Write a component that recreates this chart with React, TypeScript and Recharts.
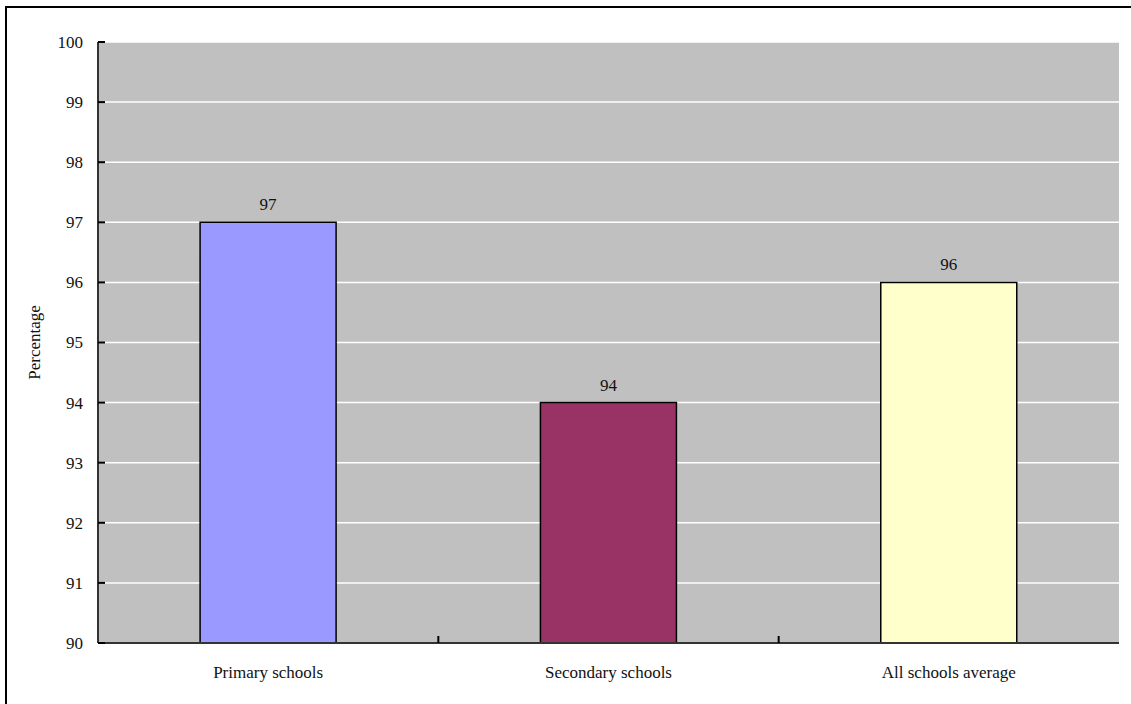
import { Bar, BarChart, CartesianGrid, Cell, LabelList, XAxis, YAxis } from 'recharts';

const schools = ['Primary schools', 'Secondary schools', 'All schools average'];
const percentages = [97, 94, 96];
const barColors = ['#9999FF', '#993366', '#FFFFCC'];
const yTicks = [90, 91, 92, 93, 94, 95, 96, 97, 98, 99, 100];

const data = schools.map((school, i) => ({ school, value: percentages[i] }));

const FONT = 'Liberation Serif';
const TICK_GAP = 23;

// y tick: label to the left of the axis, short tick mark pointing into the plot
function renderYTick(props: any) {
  const { x, y, payload } = props;
  const axisX = x + 15;
  return (
    <g key={`y-${payload.value}`}>
      <line x1={axisX} x2={axisX + 7} y1={y} y2={y} stroke="#000" strokeWidth={2} />
      <text x={x} y={y} dy="0.35em" textAnchor="end" fontFamily={FONT} fontSize={17} fill="#111">
        {payload.value}
      </text>
    </g>
  );
}

// category label, plus a tick on the right edge of each band (except the last)
function renderXTick(props: any) {
  const { x, y, payload, index, width, visibleTicksCount } = props;
  const count = visibleTicksCount || schools.length;
  const band = width / count;
  const axisY = y - TICK_GAP;
  const edgeX = x + band / 2;
  return (
    <g key={`x-${payload.value}`}>
      {index < count - 1 && (
        <line x1={edgeX} x2={edgeX} y1={axisY} y2={axisY - 7} stroke="#000" strokeWidth={2} />
      )}
      <text x={x} y={y} dy="0.71em" textAnchor="middle" fontFamily={FONT} fontSize={17} fill="#111">
        {payload.value}
      </text>
    </g>
  );
}

function renderValue(props: any) {
  const { x, y, width, value } = props;
  return (
    <text x={x + width / 2} y={y - 12} textAnchor="middle" fontFamily={FONT} fontSize={17} fill="#111">
      {value}
    </text>
  );
}

export default function App() {
  return (
    <div style={{ position: 'absolute', left: 0, top: 0, width: 1131, height: 704, overflow: 'hidden', background: '#fff', fontFamily: FONT }}>
      <div
        style={{
          position: 'absolute',
          left: 5,
          top: 6,
          width: 1140,
          height: 710,
          border: '2px solid #000',
        }}
      />
      <div style={{ position: 'absolute', left: 0, top: 0 }}>
        <BarChart
          width={1131}
          height={704}
          data={data}
          margin={{ top: 42, right: 12, bottom: 21, left: 20 }}
          barCategoryGap="30%"
          style={{ fontFamily: FONT }}
        >
          <CartesianGrid fill="#C0C0C0" stroke="#fff" strokeWidth={1.5} vertical={false} />
          <XAxis
            dataKey="school"
            height={40}
            interval={0}
            tickLine={false}
            tickSize={0}
            tickMargin={TICK_GAP}
            axisLine={{ stroke: '#333', strokeWidth: 2 }}
            tick={renderXTick}
          />
          <XAxis xAxisId="top" orientation="top" dataKey="school" height={0} tick={false} tickLine={false} axisLine={{ stroke: '#888', strokeWidth: 2 }} />
          <YAxis
            width={78}
            domain={[90, 100]}
            ticks={yTicks}
            interval={0}
            allowDataOverflow
            tickSize={0}
            tickMargin={15}
            tickLine={false}
            axisLine={{ stroke: '#333', strokeWidth: 2 }}
            tick={renderYTick}
            label={{
              value: 'Percentage',
              angle: -90,
              position: 'insideLeft',
              offset: 14,
              style: { fontFamily: FONT, fontSize: 17, fill: '#111', textAnchor: 'middle' },
            }}
          />
          <YAxis yAxisId="right" orientation="right" width={0} domain={[90, 100]} tick={false} tickLine={false} axisLine={{ stroke: '#888', strokeWidth: 2 }} />
          <Bar dataKey="value" stroke="#000" strokeWidth={1.5} isAnimationActive={false}>
            {data.map((d, i) => (
              <Cell key={d.school} fill={barColors[i]} />
            ))}
            <LabelList dataKey="value" content={renderValue} />
          </Bar>
        </BarChart>
      </div>
    </div>
  );
}
